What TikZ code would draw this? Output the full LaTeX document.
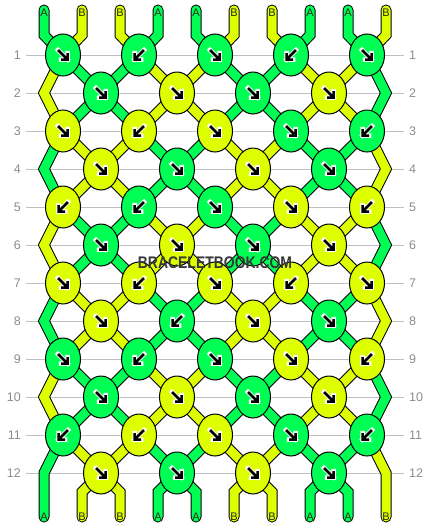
\documentclass[tikz,border=0pt]{standalone}
\usepackage{fontspec}
\setmainfont{Liberation Sans}
\usetikzlibrary{calc,shapes.geometric}

\definecolor{thrA}{RGB}{0,255,85}
\definecolor{thrB}{RGB}{221,255,0}
\definecolor{gridgray}{RGB}{192,192,192}
\definecolor{numgray}{RGB}{140,140,140}
\definecolor{markgray}{RGB}{55,55,55}

\pgfdeclarelayer{grid}
\pgfdeclarelayer{strands}
\pgfsetlayers{grid,strands,main}

\tikzset{
  knot/.style={ellipse, draw=black, line width=1pt, minimum width=35pt, minimum height=42pt, inner sep=0pt},
  thread/.style={draw=black, line width=1pt, double=#1, double distance=9pt, line cap=round},
  arrowmark/.style={draw=black, line width=2.5pt, preaction={draw=white, line width=4.5pt, line cap=rect}},
  fwd/.style={},
  bwd/.style={xscale=-1},
  rownum/.style={text=numgray, font=\fontsize{12.5}{14}\selectfont, inner xsep=5pt, inner ysep=0pt},
  endlabel/.style={font=\fontsize{11}{12}\selectfont, text=black!85, inner sep=0pt},
  gridline/.style={draw=gridgray, line width=1pt},
  markfont/.style={font=\bfseries\fontsize{16.8}{18}\selectfont, xscale=0.83}
}

\begin{document}
\begin{tikzpicture}[x=1pt, y=-1pt,
  declare function={lane(\a)=(mod(\a,20)<10 ? mod(\a,20) : 19-mod(\a,20));}]
  \useasboundingbox (0,0) rectangle (430,528);

  % knots, row by row (thread colour / direction)
  \foreach \r/\row in {
    1/{A/fwd,A/bwd,A/fwd,A/bwd,A/fwd},
    2/{A/fwd,B/fwd,A/fwd,B/fwd},
    3/{B/fwd,B/bwd,B/fwd,A/fwd,A/bwd},
    4/{B/fwd,A/fwd,B/fwd,A/fwd},
    5/{B/bwd,A/bwd,A/fwd,B/fwd,B/bwd},
    6/{A/fwd,B/fwd,A/fwd,B/fwd},
    7/{B/fwd,B/bwd,B/fwd,B/bwd,B/fwd},
    8/{B/fwd,A/bwd,B/fwd,A/fwd},
    9/{A/fwd,A/bwd,A/fwd,B/fwd,B/bwd},
    10/{A/fwd,B/fwd,A/fwd,B/fwd},
    11/{A/bwd,B/bwd,B/fwd,A/fwd,A/bwd},
    12/{B/fwd,A/fwd,B/fwd,A/fwd}}{
    \foreach \thr/\way [count=\c] in \row {
      \pgfmathsetmacro\kx{isodd(\r) ? 76*\c-13 : 76*\c+25}
      \node[knot, fill=thr\thr] (k\r-\c) at (\kx,17+38*\r) {};
      \begin{scope}[shift={(k\r-\c.center)}, \way]
        \draw[arrowmark] (-5,-5) -- (4.5,4.5) (4.5,-2) -- (4.5,4.5) -- (-2,4.5);
      \end{scope}
    }
  }

  % edge turns on the even rows
  \foreach \r in {2,4,...,12}{
    \coordinate (k\r-0) at (44,17+38*\r);
    \coordinate (k\r-5) at (386,17+38*\r);
  }

  % thread ends
  \foreach \p/\lab in {0/A,1/B,2/B,3/A,4/A,5/B,6/B,7/A,8/A,9/B}{
    \node[endlabel] (t\p) at (44+38*\p,12.5) {\lab};
    \node[endlabel] (b\p) at (44+38*\p,517) {\lab};
  }

  % row numbers and grid
  \foreach \r in {1,...,12}{
    \node[rownum, anchor=east] (nl\r) at (26,17+38*\r) {\r};
    \node[rownum, anchor=west] (nr\r) at (404,17+38*\r) {\r};
    \begin{pgfonlayer}{grid}
      \draw[gridline] (nl\r) -- (nr\r);
    \end{pgfonlayer}
  }

  % threads
  \begin{pgfonlayer}{strands}
  \foreach \p/\clr in {0/thrA,1/thrB,2/thrB,3/thrA,4/thrA,5/thrB,6/thrB,7/thrA,8/thrA,9/thrB}{
    \pgfmathtruncatemacro\st{isodd(\p) ? 19-\p : \p}
    \gdef\route{}
    \foreach \r in {1,...,12}{
      \pgfmathtruncatemacro\c{(lane(\st+\r-1)+1+mod(\r,2))/2}
      \xdef\route{\route -- (k\r-\c.center)}
    }
    \pgfmathtruncatemacro\fin{lane(\st+12)}
    \draw[thread=\clr] ([yshift=2.5pt]t\p.center) -- ++(0,25) \route
      -- ([yshift=25pt]b\fin.center) -- (b\fin.center);
  }
  \end{pgfonlayer}

  \node[markfont, text=markgray] (mark) at (215,263) {BRACELETBOOK.COM};
\end{tikzpicture}
\end{document}
